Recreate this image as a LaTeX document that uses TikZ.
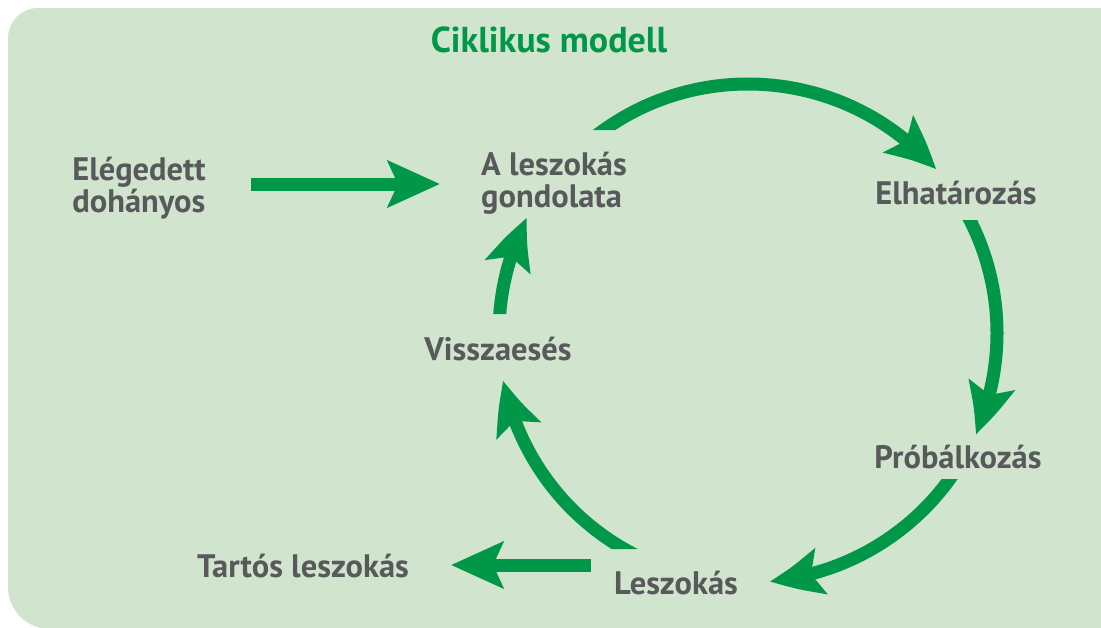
\documentclass[tikz,border=0pt]{standalone}
\usepackage{fontspec}
\setmainfont{PT Sans}
\usetikzlibrary{arrows.meta,calc,bending}
\definecolor{bgc}{RGB}{209,228,206}
\definecolor{txt}{RGB}{88,89,91}
\definecolor{grn}{RGB}{0,152,72}
\begin{document}
\begin{tikzpicture}[x=1pt,y=1pt,
  lbl/.style={font=\fontsize{32.5}{32}\selectfont\bfseries, text=txt, inner sep=0pt, anchor=base},
  ttl/.style={font=\fontsize{36}{40}\selectfont\bfseries, text=grn, inner sep=0pt, anchor=base},
  arr/.style={draw=grn, line width=13pt, -{Stealth[length=52pt,width=46pt,inset=10pt,bend]}}]
\useasboundingbox (0,0) rectangle (1101,-627);
\fill[bgc] (1120,-8) -- (38,-8) arc[start angle=90,end angle=180,radius=30]
  -- (8,-587) arc[start angle=180,end angle=270,radius=42] -- (1120,-629) -- (1120,-640) -- cycle;
\node[ttl] (title) at (549,-52) {Ciklikus modell};
\node[lbl, align=left] (eleg) at (139,-212) {Elégedett\\dohányos};
\node[lbl, align=left] (gond) at (554,-207) {A leszokás\\gondolata};
\node[lbl] (elh) at (956,-204) {Elhatározás};
\node[lbl] (prob) at (958,-468) {Próbálkozás};
\node[lbl] (lesz) at (676,-594) {Leszokás};
\node[lbl] (tart) at (303,-577) {Tartós leszokás};
\node[lbl] (vissza) at (498,-360) {Visszaesés};
\coordinate (c) at (748,-333);
\coordinate (tstart) at (591,-565);
\draw[arr] (eleg.east |- 0,-184) ++(45,0) -- (440,-184);
\draw[arr] (tstart) -- (451,-565);
\begin{scope}
  \clip (0,0) -- (1101,0) -- (1101,-627) -- (700,-627) -- (700,-130) -- (0,-130) -- cycle;
  \draw[arr] ($(c)+(131:249)$) arc[start angle=131,end angle=41,radius=249];
\end{scope}
\begin{scope}
  \clip (0,0) -- (900,0) -- (900,-220) -- (1101,-220) -- (1101,-627) -- (0,-627) -- cycle;
  \draw[arr] ($(c)+(32:249)$) arc[start angle=32,end angle=-24,radius=249];
\end{scope}
\begin{scope}
  \clip (0,0) -- (880,0) -- (880,-479) -- (1101,-479) -- (1101,-627) -- (0,-627) -- cycle;
  \draw[arr] ($(c)+(-31:249)$) arc[start angle=-31,end angle=-85,radius=249];
\end{scope}
\begin{scope}
  \clip (0,0) -- (1101,0) -- (1101,-627) -- (720,-627) -- (720,-549) -- (580,-549) -- (580,-627) -- (0,-627) -- cycle;
  \draw[arr] ($(c)+(-112:249)$) arc[start angle=-112,end angle=-169,radius=249];
\end{scope}
\begin{scope}
  \clip (0,0) -- (1101,0) -- (1101,-627) -- (570,-627) -- (570,-314) -- (450,-314) -- (450,-627) -- (0,-627) -- cycle;
  \draw[arr] ($(c)+(181:249)$) arc[start angle=181,end angle=152.5,radius=249];
\end{scope}
\end{tikzpicture}
\end{document}
